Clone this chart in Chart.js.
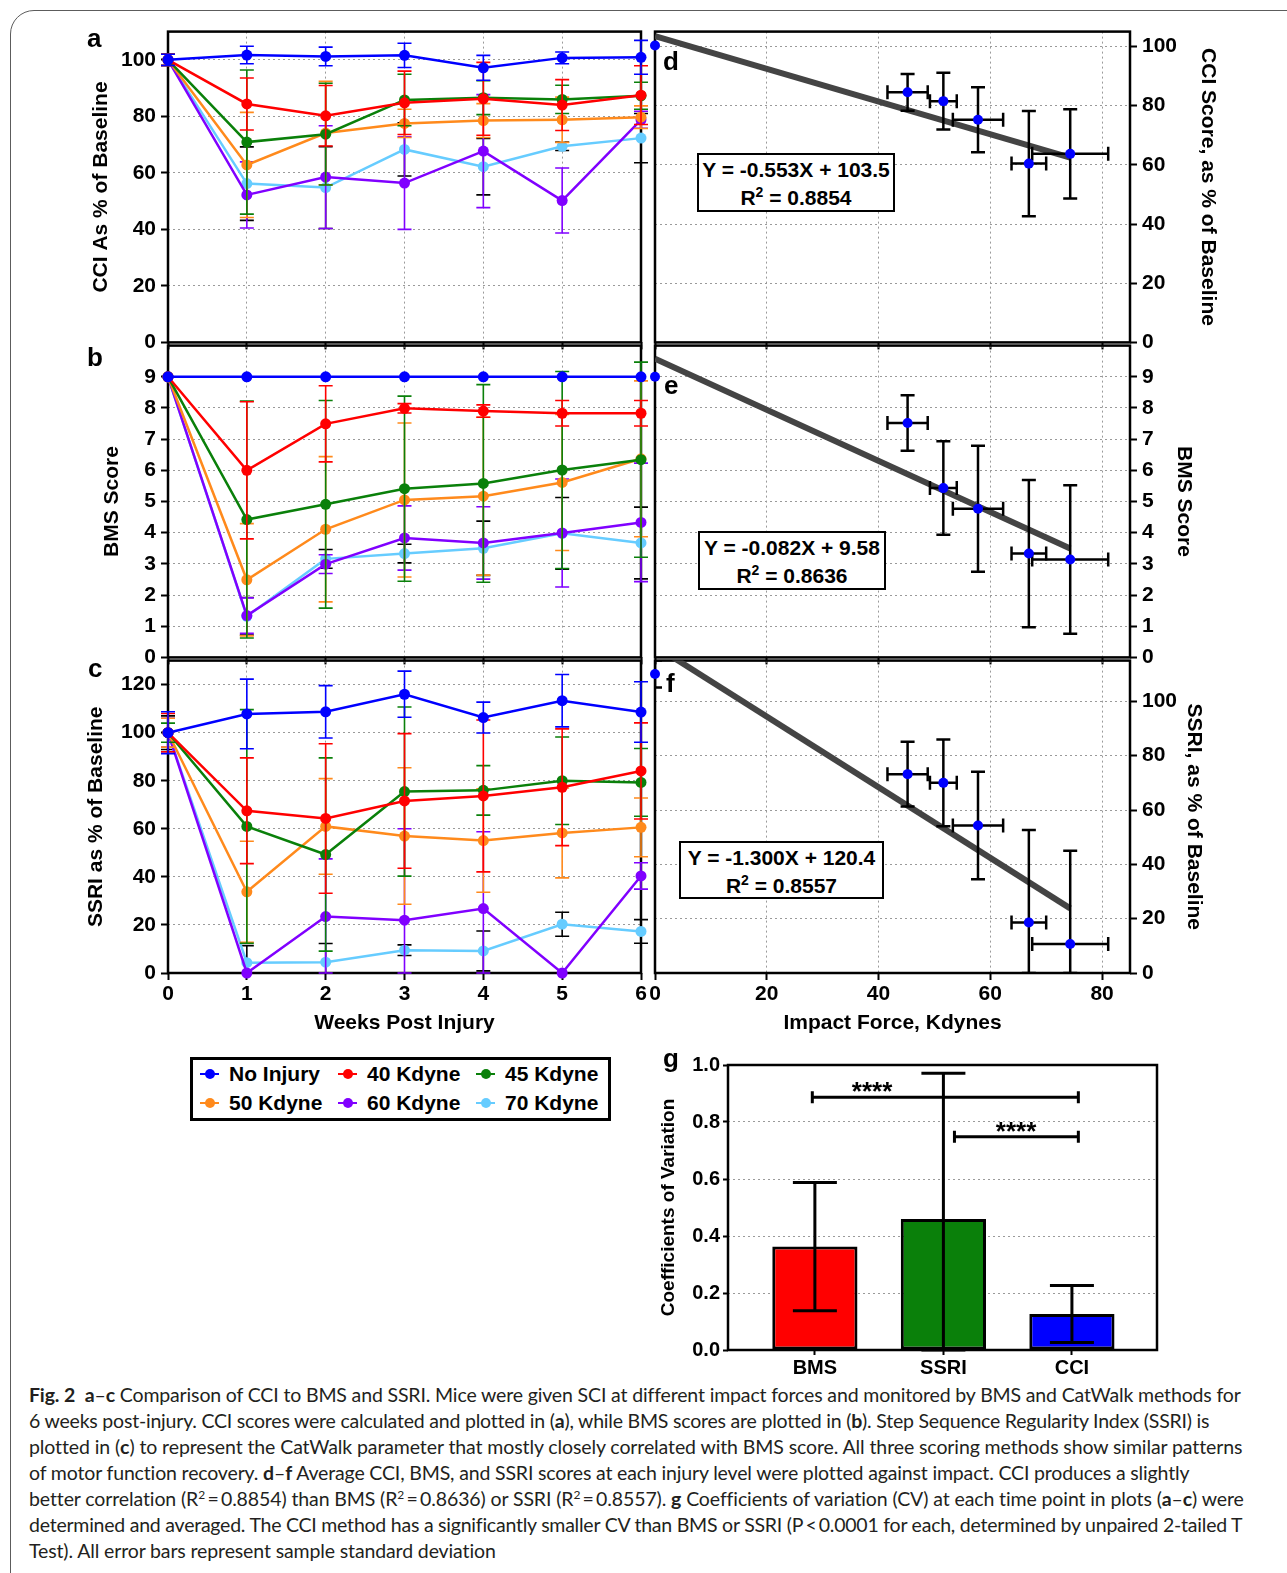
<!DOCTYPE html>
<html lang="en">
  <head>
    <meta charset="UTF-8" />
    <title>Fig. 2 - CCI compared with BMS and SSRI</title>
    <script src="https://cdn.jsdelivr.net/npm/chart.js"></script>
    <style>
      body {
        margin: 0;
        width: 1287px;
        height: 1573px;
        position: relative;
        overflow: hidden;
        background: #fff;
        color: #000;
        font-family: "Liberation Sans", Arial, sans-serif;
      }
      canvas { position: absolute; z-index: 1; }
      /* rounded figure frame, runs off the right and bottom edge */
      .frame {
        position: absolute; left: 10px; top: 10px;
        width: 1320px; height: 1620px;
        border: 1.5px solid #5c5c5c; border-radius: 24px;
      }
      .letter {
        position: absolute; z-index: 3;
        font-weight: bold; font-size: 26px; line-height: 26px;
      }
      .eq {
        position: absolute; z-index: 3; box-sizing: border-box;
        background: #fff; border: 2px solid #000;
        font-weight: bold; font-size: 21px; line-height: 28px;
        text-align: center; padding-top: 1px; white-space: nowrap;
      }
      .eq sup { font-size: 14px; line-height: 0; }
      .legend {
        position: absolute; left: 190px; top: 1057px;
        width: 421px; height: 64px; box-sizing: border-box;
        border: 3px solid #000; z-index: 2;
      }
      .item {
        position: absolute; z-index: 3; white-space: nowrap;
        font-weight: bold; font-size: 21px; line-height: 24px;
      }
      .mark { position: absolute; z-index: 3; width: 19px; height: 2.5px; }
      .mark::after {
        content: ""; position: absolute; left: 4.5px; top: -3.75px;
        width: 10px; height: 10px; border-radius: 50%; background: inherit;
      }
      .caption div {
        position: absolute; left: 29px; white-space: nowrap;
        font-family: Lato, "Open Sans", sans-serif; font-size: 19.5px;
        line-height: 26px; color: #231f20;
      }
      .caption sup { font-size: 12px; line-height: 0; }
    </style>
  </head>

  <body>
    <div class="frame"></div>

    <!-- panel letters -->
    <div class="letter" style="left: 87px; top: 25px">a</div>
    <div class="letter" style="left: 87px; top: 344px">b</div>
    <div class="letter" style="left: 88px; top: 655px">c</div>
    <div class="letter" style="left: 663px; top: 48px">d</div>
    <div class="letter" style="left: 664px; top: 372px">e</div>
    <div class="letter" style="left: 666px; top: 670px">f</div>
    <div class="letter" style="left: 663px; top: 1045px">g</div>

    <!-- regression equation boxes (text filled from fitText / fitR2) -->
    <div class="eq" id="eq0" style="left: 697px; top: 153px; width: 198px; height: 59px"></div>
    <div class="eq" id="eq1" style="left: 698px; top: 531px; width: 188px; height: 59px"></div>
    <div class="eq" id="eq2" style="left: 679px; top: 841px; width: 205px; height: 58px"></div>

    <div class="legend"></div>

    <div class="caption">
      <div style="top: 1382px"><b>Fig. 2</b>&nbsp; <b>a</b>–<b>c</b> Comparison of CCI to BMS and SSRI. Mice were given SCI at different impact forces and monitored by BMS and CatWalk methods for</div>
      <div style="top: 1408px">6 weeks post-injury. CCI scores were calculated and plotted in (<b>a</b>), while BMS scores are plotted in (<b>b</b>). Step Sequence Regularity Index (SSRI) is</div>
      <div style="top: 1434px">plotted in (<b>c</b>) to represent the CatWalk parameter that mostly closely correlated with BMS score. All three scoring methods show similar patterns</div>
      <div style="top: 1460px">of motor function recovery. <b>d</b>–<b>f</b> Average CCI, BMS, and SSRI scores at each injury level were plotted against impact. CCI produces a slightly</div>
      <div style="top: 1486px">better correlation (R<sup>2</sup>&#8201;=&#8201;0.8854) than BMS (R<sup>2</sup>&#8201;=&#8201;0.8636) or SSRI (R<sup>2</sup>&#8201;=&#8201;0.8557). <b>g</b> Coefficients of variation (CV) at each time point in plots (<b>a</b>–<b>c</b>) were</div>
      <div style="top: 1512px">determined and averaged. The CCI method has a significantly smaller CV than BMS or SSRI (P&#8201;&lt;&#8201;0.0001 for each, determined by unpaired 2-tailed T</div>
      <div style="top: 1538px">Test). All error bars represent sample standard deviation</div>
    </div>

    <script>
      // ---- data ----
      const weeks = [0, 1, 2, 3, 4, 5, 6];
      const groups = ["No Injury", "40 Kdyne", "45 Kdyne", "50 Kdyne", "60 Kdyne", "70 Kdyne"];

      // panel a: CCI as % of baseline (rows follow groups)
      const cciMeans = [
        [100, 101.7, 101.2, 101.6, 97.2, 100.7, 100.9],
        [100, 84.4, 80.2, 84.8, 86.2, 84.0, 87.5],
        [100, 70.9, 73.7, 85.8, 86.6, 86.0, 87.3],
        [100, 62.8, 74.1, 77.5, 78.5, 78.8, 79.7],
        [100, 52.2, 58.5, 56.4, 67.7, 50.2, 78.8],
        [100, 56.2, 54.8, 68.3, 62.2, 69.4, 72.3],
      ];
      const cciSD = [
        [2, 3.1, 3.3, 4.3, 4.4, 2.1, 6],
        [2, 9.2, 10.7, 11.2, 12.9, 9.0, 10.4],
        [2, 25.5, 18, 9.1, 6, 5, 4.8],
        [2, 18.6, 18.3, 5, 6, 8, 4],
        [2, 11.7, 18.2, 16.4, 20, 11.5, 3],
        [2, 13, 14.5, 9.4, 10, 1.5, 8.7],
      ];
      const cciTicks = [0, 20, 40, 60, 80, 100];

      // panel b: BMS score
      const bmsMeans = [
        [9, 9, 9, 9, 9, 9, 9],
        [9, 6.0, 7.49, 7.99, 7.9, 7.83, 7.83],
        [9, 4.42, 4.91, 5.41, 5.58, 6.01, 6.34],
        [9, 2.49, 4.11, 5.05, 5.17, 5.61, 6.37],
        [9, 1.34, 2.99, 3.83, 3.67, 3.99, 4.33],
        [9, 1.32, 3.16, 3.33, 3.5, 3.98, 3.67],
      ];
      const bmsSD = [
        [0, 0, 0, 0, 0, 0, 0],
        [0, 2.2, 1.22, 0.15, 0.2, 0.41, 0.41],
        [0, 3.8, 3.33, 2.97, 3.17, 3.16, 3.13],
        [0, 1.8, 2.33, 2.47, 2.53, 2.18, 2.5],
        [0, 0.57, 0.3, 1.03, 1.16, 1.73, 1.9],
        [0, 0.6, 0.3, 0.3, 0.87, 1.15, 1.15],
      ];
      const bmsTicks = [0, 1, 2, 3, 4, 5, 6, 7, 8, 9];

      // panel c: SSRI as % of baseline
      const ssriMeans = [
        [100, 107.8, 108.7, 116.0, 106.3, 113.3, 108.6],
        [100, 67.5, 64.3, 71.6, 73.7, 77.3, 84.1],
        [100, 61.0, 49.3, 75.5, 76.0, 80.0, 79.3],
        [100, 33.8, 61.0, 57.0, 55.1, 58.3, 60.6],
        [100, 0, 23.5, 22.0, 26.8, 0, 40.4],
        [100, 4.3, 4.5, 9.5, 9.2, 20.3, 17.3],
      ];
      const ssriSD = [
        [8.7, 14.5, 10.9, 9.6, 6.4, 10.9, 12.6],
        [8, 22, 31.1, 28, 31.6, 24.3, 20],
        [4, 48.6, 40.2, 35.2, 10.3, 18.2, 14.1],
        [6, 21, 19.9, 28.4, 21.5, 18.7, 12.2],
        [6, 0, 24, 38, 32, 0, 5.5],
        [7, 7.1, 7.8, 2.2, 8.3, 5, 4.9],
      ];
      const ssriTicks = [0, 20, 40, 60, 80, 100, 120];

      // panels d-f: group averages against measured impact force
      const impactForce = [0, 45.2, 51.6, 57.8, 66.9, 74.3];
      const impactSD = [0, 3.6, 2.4, 4.5, 3.1, 6.8];
      const cciAvg = [100.3, 84.5, 81.5, 75.2, 60.4, 63.7];
      const cciAvgSD = [0, 6.2, 9.6, 11.0, 17.8, 15.1];
      const bmsAvg = [9.0, 7.52, 5.43, 4.77, 3.33, 3.14];
      const bmsAvgSD = [0, 0.89, 1.5, 2.02, 2.36, 2.38];
      const ssriAvg = [110.1, 73.2, 70.0, 54.3, 18.6, 10.7];
      const ssriAvgSD = [5, 11.9, 16, 19.8, 34, 34.3];
      const forceTicks = [0, 20, 40, 60, 80];
      const cciFit = [[0, 103.5], [74.3, 62.4]];
      const bmsFit = [[0, 9.58], [74.3, 3.49]];
      const ssriFit = [[0, 120.4], [74.3, 23.8]];
      const fitText = ["Y = -0.553X + 103.5", "Y = -0.082X + 9.58", "Y = -1.300X + 120.4"];
      const fitR2 = ["0.8854", "0.8636", "0.8557"];

      // panel g: coefficients of variation
      const cvLabels = ["BMS", "SSRI", "CCI"];
      const cvMeans = [0.363, 0.46, 0.126];
      const cvSD = [0.225, 0.511, 0.1];
      const cvTicks = [0, 0.2, 0.4, 0.6, 0.8, 1.0];
      const cvPairs = [[-0.02, 2.05, 0.887], [1.086, 2.05, 0.748]]; // from, to, height
      const cvStarsAt = [0.445, 1.565];

      // ---- styles ----
      const groupColors = ["#0000ff", "#ff0000", "#0a800a", "#ff8a1c", "#8000ff", "#66ccff"];
      const errColors = ["#0000ff", "#ff0000", "#0a800a", "#ff8a1c", "#8000ff", "#000000"];
      const cvColors = ["#ff0000", "#0a800a", "#0000ff"];

      Chart.defaults.font.family = '"Liberation Sans", Arial, sans-serif';
      Chart.defaults.font.size = 21;
      Chart.defaults.font.weight = "bold";
      Chart.defaults.color = "#000";
      Chart.defaults.animation = false;
      Chart.defaults.responsive = false;
      Chart.defaults.plugins.legend.display = false;
      Chart.defaults.plugins.tooltip.enabled = false;

      // box round the plot area, under the marks
      const frame = {
        id: "frame",
        beforeDatasetsDraw(chart) {
          const { ctx, chartArea: a } = chart;
          ctx.save();
          ctx.strokeStyle = "#000";
          ctx.lineWidth = 2.5;
          ctx.strokeRect(a.left, a.top, a.width, a.height);
          ctx.restore();
        },
      };

      function drawErrors(chart, meta, ds) {
        const ctx = chart.ctx;
        const xs = chart.scales.x;
        const ys = chart.scales.y;
        const a = chart.chartArea;
        const cap = ds.errCap;
        ctx.save();
        if (ds.errClip) {
          ctx.beginPath();
          ctx.rect(a.left, a.top, a.width, a.height);
          ctx.clip();
        }
        ctx.strokeStyle = ds.errColor;
        ctx.lineWidth = ds.errWidth;
        meta.data.forEach((el, i) => {
          const p = ds.data[i];
          const ey = ds.yErr ? ds.yErr[i] : 0;
          const ex = ds.xErr ? ds.xErr[i] : 0;
          ctx.beginPath();
          if (ey) {
            const y1 = ys.getPixelForValue(Math.min(p.y + ey, ys.max));
            const y2 = ys.getPixelForValue(Math.max(p.y - ey, ys.min));
            ctx.moveTo(el.x, y1); ctx.lineTo(el.x, y2);
            ctx.moveTo(el.x - cap, y1); ctx.lineTo(el.x + cap, y1);
            ctx.moveTo(el.x - cap, y2); ctx.lineTo(el.x + cap, y2);
          }
          if (ex) {
            const x1 = xs.getPixelForValue(Math.max(p.x - ex, xs.min));
            const x2 = xs.getPixelForValue(Math.min(p.x + ex, xs.max));
            const y = ys.getPixelForValue(p.y);
            ctx.moveTo(x1, y); ctx.lineTo(x2, y);
            ctx.moveTo(x1, y - cap); ctx.lineTo(x1, y + cap);
            ctx.moveTo(x2, y - cap); ctx.lineTo(x2, y + cap);
          }
          ctx.stroke();
        });
        ctx.restore();
      }

      const errorBars = {
        id: "errorBars",
        beforeDatasetDraw(chart, args) {
          const ds = chart.data.datasets[args.index];
          if ((ds.yErr || ds.xErr) && !ds.errOnTop) drawErrors(chart, args.meta, ds);
        },
        afterDatasetDraw(chart, args) {
          const ds = chart.data.datasets[args.index];
          if ((ds.yErr || ds.xErr) && ds.errOnTop) drawErrors(chart, args.meta, ds);
        },
      };

      // significance brackets for panel g
      const brackets = {
        id: "brackets",
        afterDatasetsDraw(chart) {
          const { ctx, scales: { x, y } } = chart;
          ctx.save();
          ctx.strokeStyle = "#000";
          ctx.fillStyle = "#000";
          ctx.lineWidth = 3;
          ctx.font = 'bold 26px "Liberation Sans", Arial, sans-serif';
          ctx.textAlign = "center";
          cvPairs.forEach(([from, to, h], i) => {
            const x1 = x.getPixelForValue(from);
            const x2 = x.getPixelForValue(to);
            const yy = y.getPixelForValue(h);
            ctx.beginPath();
            ctx.moveTo(x1, yy - 6); ctx.lineTo(x1, yy + 6);
            ctx.moveTo(x1, yy); ctx.lineTo(x2, yy);
            ctx.moveTo(x2, yy - 6); ctx.lineTo(x2, yy + 6);
            ctx.stroke();
            ctx.fillText("****", x.getPixelForValue(cvStarsAt[i]), yy + 3);
          });
          ctx.restore();
        },
      };

      function makeCanvas(left, top, w, h) {
        const c = document.createElement("canvas");
        c.width = w;
        c.height = h;
        c.style.left = left + "px";
        c.style.top = top + "px";
        c.style.width = w + "px";
        c.style.height = h + "px";
        document.body.appendChild(c);
        return c;
      }

      const gridOpts = { color: "#9a9a9a", lineWidth: 1, tickColor: "#000", tickWidth: 2, tickLength: 7 };
      const borderOpts = { display: false, dash: [2, 3] };

      function axisX(max, ticks, showLabels, title) {
        return {
          type: "linear",
          min: 0,
          max,
          afterBuildTicks: (s) => { s.ticks = ticks.map((v) => ({ value: v })); },
          afterFit: (s) => { s.height = showLabels ? 72 : 16; },
          grid: gridOpts,
          border: borderOpts,
          ticks: { display: showLabels, padding: 2 },
          title: { display: showLabels, text: title, padding: { top: 0, bottom: 9.4 } },
        };
      }

      function axisY(max, ticks, title, pad, width) {
        return {
          min: 0,
          max,
          afterBuildTicks: (s) => { s.ticks = ticks.map((v) => ({ value: v })); },
          afterFit: (s) => { s.width = width; },
          grid: gridOpts,
          border: borderOpts,
          ticks: { padding: 5 },
          title: { display: true, text: title, padding: { top: pad, bottom: 0 } },
        };
      }

      // panels a-c: recovery over time
      function timeChart(top, height, means, sds, yMax, yTicks, yTitle, titlePad, showX) {
        const c = makeCanvas(60, top, 610, height);
        return new Chart(c, {
          type: "line",
          data: {
            datasets: groups.map((g, i) => ({
              label: g,
              data: weeks.map((w, j) => ({ x: w, y: means[i][j] })),
              yErr: sds[i],
              errColor: errColors[i],
              errWidth: 1.6,
              errCap: 7,
              borderColor: groupColors[i],
              backgroundColor: groupColors[i],
              borderWidth: 2.5,
              pointRadius: 5.5,
              pointBorderWidth: 0,
              clip: false,
            })),
          },
          options: {
            layout: { padding: { top: 16, right: 29, left: 0, bottom: 0 } },
            scales: {
              x: axisX(6, weeks, showX, "Weeks Post Injury"),
              y: axisY(yMax, yTicks, yTitle, titlePad, 108),
            },
          },
          plugins: [frame, errorBars],
        });
      }

      // panels d-f: score against impact force
      function forceChart(top, height, ys, ysd, fit, yMax, yTicks, yTitle, titlePad, showX) {
        const c = makeCanvas(645, top, 590, height);
        return new Chart(c, {
          type: "scatter",
          data: {
            datasets: [
              {
                data: impactForce.map((x, i) => ({ x, y: ys[i] })),
                backgroundColor: "#0000ff",
                pointRadius: 5,
                pointBorderWidth: 0,
                clip: false,
                xErr: impactSD,
                yErr: ysd,
                errColor: "#000",
                errWidth: 2.5,
                errCap: 7,
                errClip: true,
              },
              {
                data: fit.map((p) => ({ x: p[0], y: p[1] })),
                showLine: true,
                borderColor: "#444",
                borderWidth: 6,
                pointRadius: 0,
                clip: 0,
              },
            ],
          },
          options: {
            layout: { padding: { top: 16, right: 0, left: 10, bottom: 0 } },
            scales: {
              x: axisX(85, forceTicks, showX, "Impact Force, Kdynes"),
              y: { ...axisY(yMax, yTicks, yTitle, titlePad, 105), position: "right" },
            },
          },
          plugins: [frame, errorBars],
        });
      }

      timeChart(14, 346, cciMeans, cciSD, 110, cciTicks, "CCI As % of Baseline", 28.4, false);
      timeChart(328, 347, bmsMeans, bmsSD, 10, bmsTicks, "BMS Score", 39.4, false);
      timeChart(643, 402, ssriMeans, ssriSD, 130, ssriTicks, "SSRI as % of Baseline", 23.4, true);

      forceChart(14, 346, cciAvg, cciAvgSD, cciFit, 105, cciTicks, "CCI Score, as % of Baseline", 14.4, false);
      forceChart(328, 347, bmsAvg, bmsAvgSD, bmsFit, 10, bmsTicks, "BMS Score", 38.4, false);
      forceChart(643, 402, ssriAvg, ssriAvgSD, ssriFit, 115, ssriTicks.slice(0, 6), "SSRI, as % of Baseline", 28.4, true);

      // panel g: coefficients of variation
      new Chart(makeCanvas(640, 1042, 530, 342), {
        type: "bar",
        data: {
          datasets: [
            {
              data: cvMeans.map((v, i) => ({ x: i, y: v })),
              backgroundColor: cvColors,
              borderColor: "#000",
              borderWidth: 3,
              borderSkipped: false,
              barPercentage: 0.663,
              categoryPercentage: 1,
              yErr: cvSD,
              errColor: "#000",
              errWidth: 3,
              errCap: 22,
              errOnTop: true,
            },
          ],
        },
        options: {
          layout: { padding: { top: 23, right: 13, left: 0, bottom: 0 } },
          scales: {
            x: {
              type: "linear",
              min: -0.676,
              max: 2.662,
              offset: false,
              afterBuildTicks: (s) => { s.ticks = cvLabels.map((_, i) => ({ value: i })); },
              afterFit: (s) => { s.height = 34; },
              ticks: { callback: (v) => cvLabels[v], padding: 1, font: { size: 20 } },
              grid: { offset: false, drawOnChartArea: false, tickColor: "#000", tickWidth: 2, tickLength: 5 },
              border: { display: false },
            },
            y: {
              min: 0,
              max: 1,
              afterBuildTicks: (s) => { s.ticks = cvTicks.map((v) => ({ value: v })); },
              afterFit: (s) => { s.width = 88; },
              ticks: { callback: (v) => v.toFixed(1), padding: 3, font: { size: 20 } },
              grid: { color: "#9a9a9a", lineWidth: 1, tickColor: "#000", tickWidth: 2, tickLength: 5 },
              border: { display: false, dash: [2, 3] },
              title: { display: true, text: "Coefficients of Variation", font: { size: 19 }, padding: { top: 17.6, bottom: 0 } },
            },
          },
        },
        plugins: [frame, errorBars, brackets],
      });

      // equation boxes
      fitText.forEach((t, i) => {
        document.getElementById("eq" + i).innerHTML = t + "<br>R<sup>2</sup> = " + fitR2[i];
      });

      // legend: three columns, two rows
      const legendText = [229, 367, 505];
      const legendRow = [1074, 1103];
      groups.forEach((g, i) => {
        const x = legendText[i % 3];
        const y = legendRow[Math.floor(i / 3)];
        const m = document.createElement("div");
        m.className = "mark";
        m.style.left = x - 29 + "px";
        m.style.top = y - 1.25 + "px";
        m.style.background = groupColors[i];
        document.body.appendChild(m);
        const t = document.createElement("div");
        t.className = "item";
        t.style.left = x + "px";
        t.style.top = y - 12 + "px";
        t.textContent = g;
        document.body.appendChild(t);
      });

      // stretch each caption line to the width it has in the figure
      const captionRight = [1240, 1208, 1241, 1189, 1243, 1242, 496];
      document.querySelectorAll(".caption div").forEach((el, i) => {
        const w = el.getBoundingClientRect().width;
        const n = el.textContent.length;
        el.style.letterSpacing = (captionRight[i] - 29 - w) / n + "px";
      });
    </script>
  </body>
</html>
